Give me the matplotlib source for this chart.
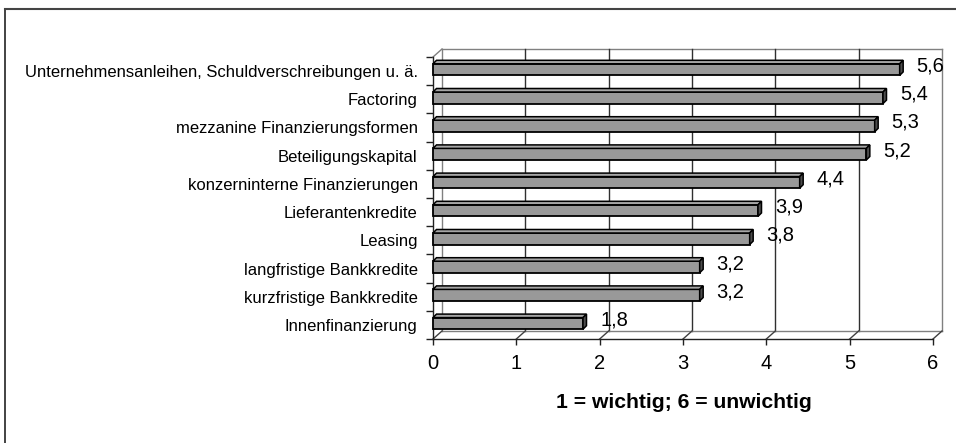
import matplotlib
matplotlib.use("Agg")
import matplotlib.pyplot as plt
from matplotlib.patches import Polygon, Rectangle
from matplotlib.lines import Line2D

categories = [
    "Unternehmensanleihen, Schuldverschreibungen u. ä.",
    "Factoring",
    "mezzanine Finanzierungsformen",
    "Beteiligungskapital",
    "konzerninterne Finanzierungen",
    "Lieferantenkredite",
    "Leasing",
    "langfristige Bankkredite",
    "kurzfristige Bankkredite",
    "Innenfinanzierung",
]
values = [5.6, 5.4, 5.3, 5.2, 4.4, 3.9, 3.8, 3.2, 3.2, 1.8]
value_labels = ["5,6", "5,4", "5,3", "5,2", "4,4", "3,9", "3,8", "3,2", "3,2", "1,8"]
xticks = [0, 1, 2, 3, 4, 5, 6]
xlabel = "1 = wichtig; 6 = unwichtig"

plt.rcParams['font.family'] = ['Liberation Sans', 'DejaVu Sans']

W, H = 956, 443
fig = plt.figure(figsize=(W / 100, H / 100), dpi=100)

# front plane in pixels
x0p, x1p = 433, 933
ytp, ybp = 57, 339
ax = fig.add_axes([x0p / W, (H - ybp) / H, (x1p - x0p) / W, (ybp - ytp) / H])
n = len(categories)
ax.set_xlim(0, 6)
ax.set_ylim(n - 0.5, -0.5)

kx = (x1p - x0p) / 6.0
ky = (ybp - ytp) / n
ddx = 9 / kx
ddy = 8 / ky

for s in ax.spines.values():
    s.set_visible(False)

gray = '#808080'
# back wall
top_b = -0.5 - ddy
bot_b = n - 0.5 - ddy
ax.add_line(Line2D([ddx, 6 + ddx], [top_b, top_b], color=gray, lw=1, clip_on=False))
ax.add_line(Line2D([ddx, ddx], [top_b, bot_b], color=gray, lw=1, clip_on=False))
ax.add_line(Line2D([6 + ddx, 6 + ddx], [top_b, bot_b], color=gray, lw=1, clip_on=False))
for k in xticks[1:-1]:
    ax.add_line(Line2D([k + ddx, k + ddx], [top_b, bot_b], color='#303030', lw=1, clip_on=False))
# floor
ax.add_line(Line2D([ddx, 6 + ddx], [bot_b, bot_b], color=gray, lw=1, clip_on=False))
for k in xticks:
    ax.add_line(Line2D([k, k + ddx], [n - 0.5, bot_b], color='#404040', lw=1, clip_on=False))
ax.add_line(Line2D([0, ddx], [-0.5, top_b], color=gray, lw=1, clip_on=False))
# front axes
ax.add_line(Line2D([0, 6], [n - 0.5, n - 0.5], color='#202020', lw=1, clip_on=False))
ax.add_line(Line2D([0, 0], [-0.5, n - 0.5], color='#202020', lw=1, clip_on=False))

# bars
bh = 5.8 / ky
bdx = 3.5 / kx
bdy = 3.5 / ky
shift = 1.5 / ky
for i, v in enumerate(values):
    c = i - shift
    ax.add_patch(Rectangle((0, c - bh), v, 2 * bh, facecolor='#999999', edgecolor='black', lw=1.3, zorder=3, clip_on=False))
    ax.add_patch(Polygon([(0, c - bh), (v, c - bh), (v + bdx, c - bh - bdy), (bdx, c - bh - bdy)],
                         closed=True, facecolor='#a6a6a6', edgecolor='black', lw=1.1, zorder=3, clip_on=False))
    ax.add_patch(Polygon([(v, c - bh), (v, c + bh), (v + bdx, c + bh - bdy), (v + bdx, c - bh - bdy)],
                         closed=True, facecolor='#4d4d4d', edgecolor='black', lw=1.1, zorder=3, clip_on=False))
    ax.text(v + 17 / kx, c - 3.5 / ky, value_labels[i], fontsize=14.5, ha='left', va='center', zorder=4)

# ticks
ax.set_xticks(xticks)
ax.set_xticklabels([str(t) for t in xticks], fontsize=14.5)
ax.tick_params(axis='x', direction='out', length=4, width=1, color='#202020', pad=7)
ax.set_yticks(range(n))
ax.set_yticklabels(categories, fontsize=12.0)
ax.tick_params(axis='y', which='major', length=0, pad=11)
ax.set_yticks([i + 0.5 for i in range(-1, n)], minor=True)
ax.tick_params(axis='y', which='minor', length=5, width=1, color='#202020')

fig.text(684 / W, 1 - 403 / H, xlabel, fontsize=15.2, fontweight='bold', ha='center', va='center')

# chart border (top and left)
fig.add_artist(Line2D([5 / W, 5 / W], [0, 1 - 9 / H], color='#222222', lw=1.2, transform=fig.transFigure))
fig.add_artist(Line2D([5 / W, 1], [1 - 9 / H, 1 - 9 / H], color='#444444', lw=1.5, transform=fig.transFigure))

fig.savefig("out.png", dpi=100)
